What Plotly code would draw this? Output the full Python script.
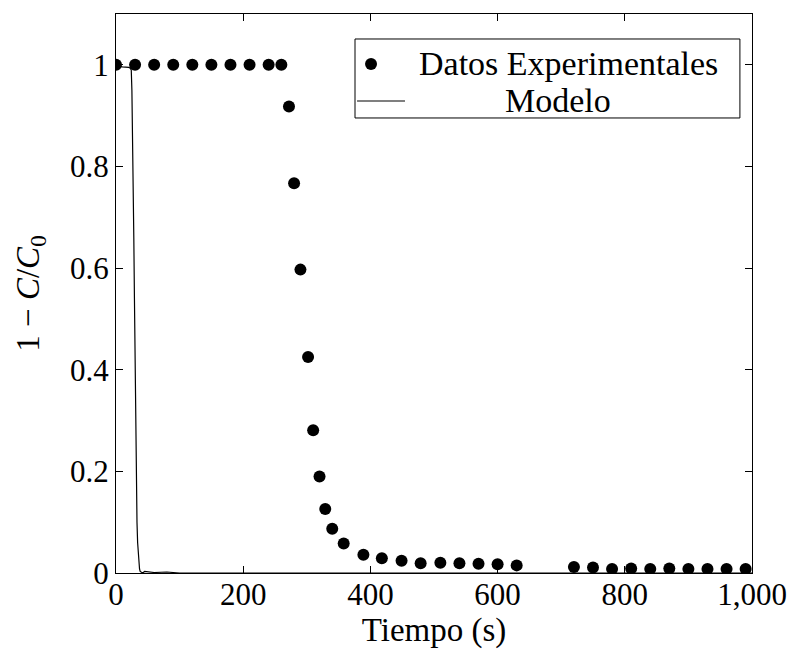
import plotly.graph_objects as go

# Experimental data
t_exp = [0, 30, 60, 90, 120, 150, 180, 210, 240, 260,
         272, 280, 290, 302, 310, 320, 329, 340, 358, 389,
         418, 449, 479, 510, 540, 570, 600, 630,
         720, 750, 780, 810, 840, 870, 900, 930, 960, 990]
y_exp = [1, 1, 1, 1, 1, 1, 1, 1, 1, 1,
         0.918, 0.767, 0.597, 0.425, 0.281, 0.190, 0.126, 0.087, 0.058, 0.036,
         0.029, 0.024, 0.019, 0.020, 0.019, 0.018, 0.017, 0.015,
         0.012, 0.011, 0.008, 0.009, 0.008, 0.009, 0.008, 0.008, 0.008, 0.008]

# Model curve
t_mod = [0, 5, 10, 15, 20, 22, 24, 25, 26, 27, 28, 29, 30, 31, 32, 33, 34, 35,
         36, 37, 38, 40, 42, 45, 50, 60, 80, 100, 150, 200, 1000]
y_mod = [1, 0.997, 0.996, 0.996, 0.995, 0.994, 0.99, 0.95, 0.88, 0.78, 0.66,
         0.54, 0.41, 0.27, 0.17, 0.10, 0.06, 0.035, 0.018, 0.008, 0.003, 0.001,
         0.0, 0.003, 0.002, 0.001, 0.002, 0.0, 0.0, 0.0, 0.0]

x_ticks = [0, 200, 400, 600, 800, 1000]
x_ticktext = ["0", "200", "400", "600", "800", "1,000"]
y_ticks = [0, 0.2, 0.4, 0.6, 0.8, 1]
y_ticktext = ["0", "0.2", "0.4", "0.6", "0.8", "1"]
legend_names = ["Datos Experimentales", "Modelo"]

FONT = "Liberation Serif"
FS = 31
LFS = 34

fig = go.Figure()
fig.add_trace(go.Scatter(
    x=t_exp, y=y_exp, mode="markers", name=legend_names[0], showlegend=False,
    marker=dict(color="black", size=12, symbol="circle"),
))
fig.add_trace(go.Scatter(
    x=t_mod, y=y_mod, mode="lines", name=legend_names[1], showlegend=False,
    line=dict(color="black", width=1.2),
))

axis_common = dict(
    showline=True, linecolor="black", linewidth=1, mirror="ticks",
    ticks="inside", ticklen=7, tickcolor="black", tickwidth=1,
    showgrid=False, zeroline=False, automargin=False,
    tickfont=dict(family=FONT, size=FS, color="black"),
)

# Custom legend (box, glyphs, labels) in paper coordinates
lx0, lx1, ly0, ly1 = 0.3758, 0.981, 0.814, 0.9553
row1, row2 = 0.9106, 0.8444
shapes = [
    dict(type="rect", xref="paper", yref="paper", x0=lx0, x1=lx1, y0=ly0, y1=ly1,
         line=dict(color="black", width=1), fillcolor="white", layer="above"),
    dict(type="circle", xref="paper", yref="paper", xsizemode="pixel", ysizemode="pixel",
         xanchor=0.401, yanchor=row1, x0=-6, x1=6, y0=-6, y1=6,
         line=dict(color="black", width=0), fillcolor="black", layer="above"),
    dict(type="line", xref="paper", yref="paper", x0=0.379, x1=0.4544, y0=row2, y1=row2,
         line=dict(color="black", width=1.2), layer="above"),
]
annotations = [
    dict(text=legend_names[0], xref="paper", yref="paper", x=0.4733, y=row1,
         xanchor="left", yanchor="middle", showarrow=False,
         font=dict(family=FONT, size=LFS, color="black")),
    dict(text=legend_names[1], xref="paper", yref="paper", x=0.695, y=row2,
         xanchor="center", yanchor="middle", showarrow=False,
         font=dict(family=FONT, size=LFS, color="black")),
]

fig.update_layout(
    width=791, height=668,
    margin=dict(l=116, r=39, t=14, b=95),
    paper_bgcolor="white", plot_bgcolor="white",
    font=dict(family=FONT, color="black", size=FS),
    xaxis=dict(range=[0, 1000], tickvals=x_ticks, ticktext=x_ticktext,
               ticklabelstandoff=-6,
               title=dict(text="Tiempo (s)", font=dict(family=FONT, size=33), standoff=2),
               **axis_common),
    yaxis=dict(range=[0, 1.1], tickvals=y_ticks, ticktext=y_ticktext,
               title=dict(text="1 \u2212 <i>C</i>/<i>C</i><sub>0</sub>", font=dict(family=FONT, size=33), standoff=20),
               **axis_common),
    shapes=shapes,
    annotations=annotations,
    showlegend=False,
)

fig.write_html("out.html", config={"displayModeBar": False},
               post_script="document.body.style.margin='0';")
